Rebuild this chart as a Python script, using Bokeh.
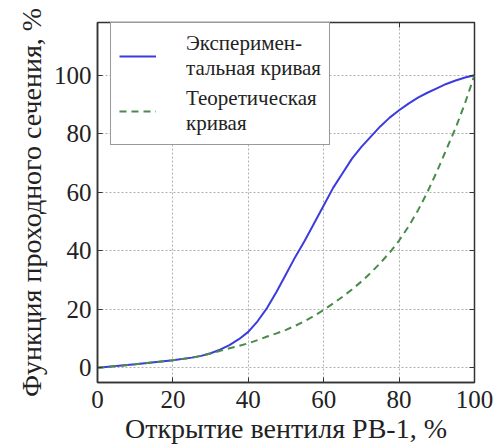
from bokeh.plotting import figure
from bokeh.models import Range1d, LinearAxis, FixedTicker, Legend, LegendItem
from bokeh.embed import file_html
from bokeh.resources import INLINE

x_exp = [0, 5, 10, 15, 20, 25, 27.5, 30, 32.5, 35, 37.5, 40, 42.5, 45, 47.5, 50, 52.5, 55, 57.5,
         60, 62.5, 65, 67.5, 70, 72.5, 75, 77.5, 80, 82.5, 85, 87.5, 90, 92.5, 95, 97.5, 100]
y_exp = [0, 0.6, 1.2, 1.9, 2.6, 3.5, 4.1, 5, 6.2, 7.8, 9.8, 12.3, 16, 20.5, 26, 32, 38, 43.5, 49.5,
         55.5, 61.5, 66.5, 71.5, 75.5, 79, 82.5, 85.5, 88, 90.3, 92.3, 94, 95.5, 97, 98.2, 99.2, 100]

x_theo = [0, 5, 10, 15, 20, 25, 27.5, 30, 32.5, 35, 37.5, 40, 42.5, 45, 47.5, 50, 52.5, 55, 57.5,
          60, 62.5, 65, 67.5, 70, 72.5, 75, 77.5, 80, 82.5, 85, 87.5, 90, 92.5, 95, 97.5, 100]
y_theo = [0, 0.6, 1.2, 1.9, 2.6, 3.5, 4.1, 4.9, 5.8, 6.7, 7.5, 8.4, 9.5, 10.7, 11.8, 13, 14.4, 16, 17.8,
          19.8, 22, 24.3, 26.8, 29.5, 32.5, 35.8, 39.4, 43.5, 48.3, 53.8, 60, 67, 74.5, 82, 90.5, 100]

ticks = [0, 20, 40, 60, 80, 100]
label_exp = "Эксперимен-\nтальная кривая"
label_theo = "Теоретическая\nкривая"
x_title = "Открытие вентиля PB-1, %"
y_title = "Функция проходного сечения, %"

FONT = "Liberation Serif"

p = figure(width=499, height=446, output_backend="svg", toolbar_location=None,
           x_range=Range1d(0, 100), y_range=Range1d(-5, 118),
           min_border_left=97, min_border_right=25, min_border_top=22, min_border_bottom=63)

p.outline_line_color = "#333333"
p.outline_line_width = 1.5

for ax in [p.xaxis[0], p.yaxis[0]]:
    ax.ticker = FixedTicker(ticks=ticks)
    ax.major_tick_in = 5
    ax.major_tick_out = 0
    ax.minor_tick_line_color = None
    ax.axis_line_color = "#333333"
    ax.axis_line_width = 1.5
    ax.major_tick_line_color = "#333333"
    ax.major_label_text_font = FONT
    ax.major_label_text_font_size = "25px"
    ax.major_label_text_color = "#222222"
    ax.axis_label_text_font = FONT
    ax.axis_label_text_font_size = "28px"
    ax.axis_label_text_font_style = "normal"
    ax.axis_label_text_color = "#222222"

p.xaxis[0].axis_label = x_title
p.yaxis[0].axis_label = y_title
p.xaxis[0].major_label_standoff = 8
p.yaxis[0].major_label_standoff = 6
p.xaxis[0].axis_label_standoff = 2
p.yaxis[0].axis_label_standoff = 4

blank = {t: "" for t in ticks}
top = LinearAxis(ticker=FixedTicker(ticks=ticks), major_label_overrides=blank,
                 major_tick_in=5, major_tick_out=0, minor_tick_line_color=None,
                 axis_line_color=None, major_tick_line_color="#333333")
right = LinearAxis(ticker=FixedTicker(ticks=ticks), major_label_overrides=blank,
                   major_tick_in=5, major_tick_out=0, minor_tick_line_color=None,
                   axis_line_color=None, major_tick_line_color="#333333")
p.add_layout(top, "above")
p.add_layout(right, "right")

p.xgrid.ticker = FixedTicker(ticks=ticks)
p.ygrid.ticker = FixedTicker(ticks=ticks)
for g in [p.xgrid[0], p.ygrid[0]]:
    g.grid_line_color = "#b0b0b0"
    g.grid_line_dash = "2 2"
    g.grid_line_width = 1

r_exp = p.line(x_exp, y_exp, line_color="#3b3be0", line_width=2)
r_theo = p.line(x_theo, y_theo, line_color="#4a8a4a", line_width=2, line_dash="7 5")

legend = Legend(items=[LegendItem(label=label_exp, renderers=[r_exp]),
                       LegendItem(label=label_theo, renderers=[r_theo])],
                location=(13, 237), label_text_font=FONT, label_text_font_size="21px",
                label_text_color="#222222", glyph_width=37, label_standoff=30,
                padding=8, spacing=5, border_line_color="#333333", border_line_width=1.5,
                background_fill_alpha=1.0, label_text_line_height=1.0)
p.add_layout(legend, "center")

open("out.html", "w").write(file_html(p, INLINE))
